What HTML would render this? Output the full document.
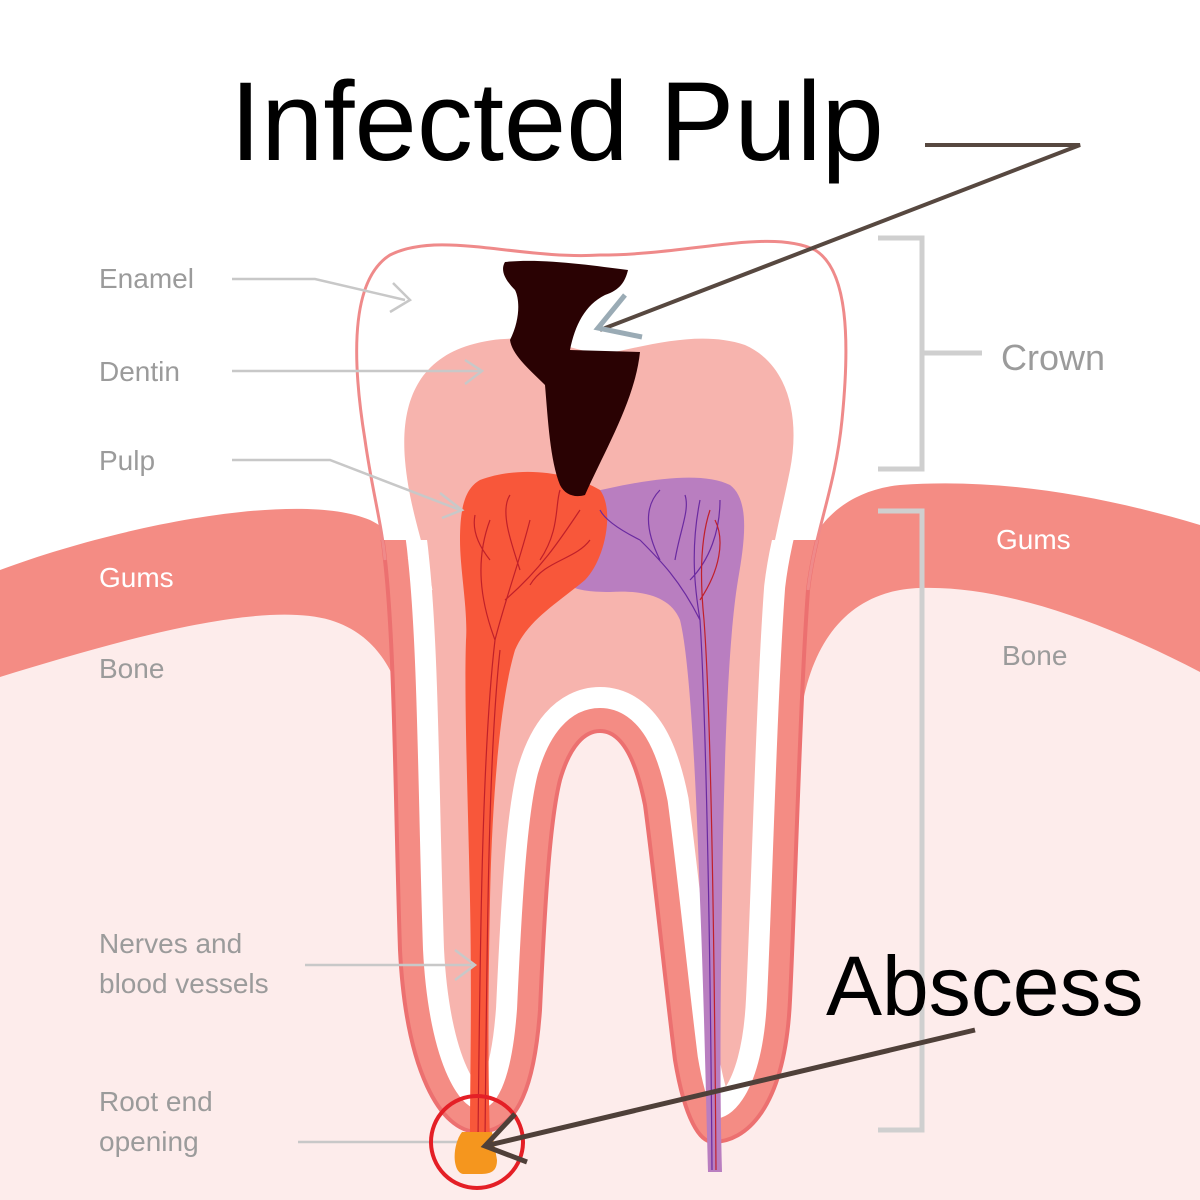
<!DOCTYPE html>
<html><head><meta charset="utf-8"><style>
html,body{margin:0;padding:0;background:#fff;}
svg{display:block;}
text{font-family:"Liberation Sans",sans-serif;}
</style></head><body>
<svg width="1200" height="1200" viewBox="0 0 1200 1200" xmlns="http://www.w3.org/2000/svg">
<defs>
<path id="P" d="M385,560 C395,650 395,800 400,950 C406,1070 440,1132 478,1132 C520,1132 535,1080 540,1010 C545,900 550,820 560,780 C570,745 585,731 600,731 C620,731 635,755 645,805 C655,880 665,980 675,1060 C685,1120 700,1142 713,1142 C745,1142 785,1110 790,1000 C795,900 800,700 808,590 C815,530 835,490 842,420 C850,340 848,270 815,250 C770,228 690,255 600,255 C520,260 440,230 390,255 C350,280 352,360 365,440 C372,490 382,525 385,560 Z"/>
<clipPath id="cp"><use href="#P"/></clipPath>
<clipPath id="low2"><rect x="0" y="540" width="1200" height="660"/></clipPath>
</defs>
<rect width="1200" height="1200" fill="#fff"/>
<!-- gums -->
<path d="M0,570 C120,525 300,490 370,520 C395,532 400,550 405,560 L805,560 C815,520 850,490 900,485 C1000,478 1100,495 1200,525 L1200,1200 L0,1200 Z" fill="#f48c84"/>
<!-- bone -->
<path d="M0,677 C120,640 260,600 330,620 C380,635 400,680 405,720 L800,720 C810,640 850,590 920,588 C1000,585 1100,620 1200,672 L1200,1200 L0,1200 Z" fill="#fdeceb"/>
<!-- tooth -->
<use href="#P" fill="#fff"/>
<g clip-path="url(#cp)">
 <rect x="0" y="590" width="1200" height="610" fill="#f7b4ae"/>
 <!-- crown dentin -->
 <path d="M470,345 C520,330 560,345 600,355 C650,345 700,330 745,345 C790,365 800,420 790,470 C780,520 768,560 764,620 L436,620 C432,560 410,520 405,460 C400,400 420,360 470,345 Z" fill="#f7b4ae"/>
 <use href="#P" fill="none" stroke="#fff" stroke-width="88" clip-path="url(#low2)"/>
 <use href="#P" fill="none" stroke="#f48c84" stroke-width="46" clip-path="url(#low2)"/>
</g>
<use href="#P" fill="none" stroke="#ec7070" stroke-width="4" clip-path="url(#low2)"/>
<path d="M385,560 C382,525 372,490 365,440 C352,360 350,280 390,255 C440,230 520,260 600,255 C690,255 770,228 815,250 C848,270 850,340 842,420 C835,490 815,530 808,590" fill="none" stroke="#ef8a8a" stroke-width="3"/>
<!-- pulp purple -->
<path d="M580,495 C640,480 700,470 730,485 C750,500 745,540 738,580 C728,640 724,760 722,900 C720,1020 720,1100 722,1172 L708,1172 C706,1100 704,1000 700,900 C696,780 690,660 680,620 C670,595 640,590 610,592 C590,592 575,590 570,585 Z" fill="#b97ec0"/>
<!-- pulp orange -->
<path d="M480,480 C520,465 570,472 600,490 C615,510 605,560 585,580 C555,605 528,620 515,650 C500,700 492,800 490,900 C488,1000 488,1080 490,1140 L470,1140 C470,1080 472,1000 470,900 C468,800 464,700 466,640 C468,610 460,570 460,540 C460,505 466,488 480,480 Z" fill="#f8573a"/>
<!-- veins -->
<g stroke="#c0202a" stroke-width="1.2" fill="none">
<path d="M478,1140 C480,950 482,750 495,640 C505,600 520,560 530,520 M495,640 C480,600 475,560 490,520 M505,600 C540,570 560,540 580,510 M520,570 C510,540 500,510 510,495 M540,560 C560,530 555,505 560,490 M485,1140 C487,950 488,760 500,650 M530,585 C545,560 575,560 590,540 M490,560 C478,545 472,530 475,515"/>
<path d="M712,1170 C710,900 705,700 700,620 C695,590 690,550 700,500 M700,620 C680,580 660,560 640,540 M690,580 C710,560 720,530 720,500 M660,560 C640,520 650,500 660,490 M640,540 C620,530 605,520 600,510 M675,560 C680,530 690,510 685,495" stroke="#6a2aa0"/>
<path d="M716,1170 C714,900 710,700 704,620 C700,580 700,540 710,510 M700,600 C720,570 725,540 715,520" stroke="#c0202a"/>
</g>
<!-- cavity -->
<path d="M505,262 C540,258 590,265 628,270 C625,282 620,290 605,295 C585,305 575,325 570,350 L640,352 C635,400 605,450 585,495 C575,498 565,495 560,485 C550,460 548,420 545,385 C530,370 512,355 510,340 C520,320 520,300 515,290 C505,280 500,270 505,262 Z" fill="#2a0203"/>
<!-- brackets -->
<g stroke="#cfcfcf" stroke-width="5" fill="none">
<path d="M878,238 L922,238 L922,469 L878,469 M922,353 L982,353"/>
<path d="M878,511 L922,511 L922,1130 L878,1130"/>
</g>
<!-- label arrows -->
<g stroke="#c8c8c8" stroke-width="2.5" fill="none">
<path d="M232,279 L315,279 L405,300 M393,283 L410,300 L390,312"/>
<path d="M232,371 L480,371 M465,360 L482,371 L465,384"/>
<path d="M232,460 L330,460 L460,510 M440,493 L462,510 L442,518"/>
<path d="M305,965 L475,965 M455,950 L475,965 L455,980"/>
<path d="M298,1142 L470,1142"/>
</g>
<!-- labels -->
<g fill="#9b9b9b" font-size="28">
<text x="99" y="288">Enamel</text>
<text x="99" y="381">Dentin</text>
<text x="99" y="470">Pulp</text>
<text x="99" y="953">Nerves and</text>
<text x="99" y="993">blood vessels</text>
<text x="99" y="1111">Root end</text>
<text x="99" y="1151">opening</text>
<text x="99" y="678">Bone</text>
<text x="1002" y="665">Bone</text>
<text x="1001" y="370" font-size="36">Crown</text>
</g>
<g fill="#fff" font-size="28">
<text x="99" y="587">Gums</text>
<text x="996" y="549">Gums</text>
</g>
<!-- abscess -->
<path d="M462,1132 L492,1132 L497,1160 C497,1172 490,1174 480,1174 L463,1174 C452,1172 452,1145 462,1132 Z" fill="#f5961e"/>
<circle cx="477" cy="1142" r="46" fill="none" stroke="#e41f26" stroke-width="4"/>
<!-- big arrows -->
<path d="M925,145 L1080,145 L600,330" fill="none" stroke="#574840" stroke-width="4"/>
<path d="M625,295 L598,328 L642,337" fill="none" stroke="#9aabb5" stroke-width="5"/>
<path d="M975,1030 L485,1146" fill="none" stroke="#4f4039" stroke-width="5"/>
<path d="M515,1114 L485,1146 L527,1162" fill="none" stroke="#4f4039" stroke-width="5"/>
<text x="230" y="160" font-size="112" fill="#000">Infected Pulp</text>
<text x="826" y="1015" font-size="84" fill="#000">Abscess</text>
</svg>
</body></html>
